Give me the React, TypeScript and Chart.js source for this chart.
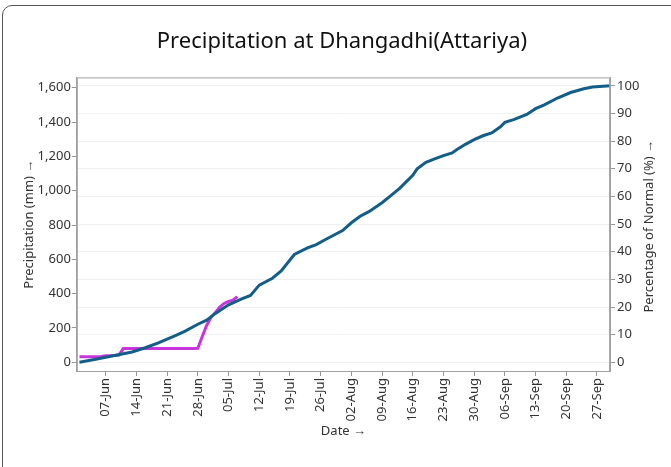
import React, { useEffect, useRef } from 'react';
import { Chart, registerables } from 'chart.js';

Chart.register(...registerables);

// Day index: 0 = 01-Jun
const normalDays = [0, 4, 8, 12, 15, 18, 22, 24, 27, 29, 31, 34, 37, 39, 41, 44, 46, 49, 52, 54, 56, 60, 62, 64, 66, 69, 71, 73, 76, 77, 79, 81, 83, 85, 86, 88, 90, 92, 94, 96, 97, 99, 102, 104, 106, 109, 112, 115, 117, 121];
const normalMm = [0, 19, 40, 60, 85, 113, 157, 180, 222, 246, 285, 335, 370, 390, 450, 490, 532, 628, 667, 686, 714, 768, 813, 851, 878, 930, 971, 1014, 1090, 1127, 1165, 1185, 1204, 1220, 1238, 1270, 1297, 1320, 1336, 1372, 1398, 1414, 1444, 1478, 1500, 1540, 1572, 1594, 1604, 1611];

const actualDays = [0, 1, 2, 3, 4, 5, 6, 7, 8, 9, 10, 11, 12, 13, 14, 15, 16, 17, 18, 19, 20, 21, 22, 23, 24, 25, 26, 27, 28, 29, 30, 31, 32, 33, 34, 35, 36];
const actualMm = [33, 33, 33, 33, 33, 34, 38, 39, 40, 42, 80, 81, 81, 81, 81, 81, 81, 81, 81, 81, 81, 81, 81, 81, 81, 81, 81, 82, 150, 215, 262, 290, 322, 343, 355, 362, 383];

const xTickDays = [6, 13, 20, 27, 34, 41, 48, 55, 62, 69, 76, 83, 90, 97, 104, 111, 118];
const xTickLabels = ['07-Jun', '14-Jun', '21-Jun', '28-Jun', '05-Jul', '12-Jul', '19-Jul', '26-Jul', '02-Aug', '09-Aug', '16-Aug', '23-Aug', '30-Aug', '06-Sep', '13-Sep', '20-Sep', '27-Sep'];
const mmTicks = [0, 200, 400, 600, 800, 1000, 1200, 1400, 1600];
const pctTicks = [0, 10, 20, 30, 40, 50, 60, 70, 80, 90, 100];
const normalTotal = 1611;

const mmMin = -50.6;
const mmMax = 1660;

const FONT = "'Noto Sans', 'Open Sans', sans-serif";

const framePlugin = {
  id: 'frameAndRightTitle',
  afterDraw(chart: any) {
    const { ctx, chartArea } = chart;
    ctx.save();
    ctx.strokeStyle = '#a0a0a0';
    ctx.lineWidth = 1;
    ctx.strokeRect(chartArea.left + 0.5, chartArea.top + 0.5, chartArea.right - chartArea.left - 1, chartArea.bottom - chartArea.top);
    const x = 649;
    const y = (chartArea.top + chartArea.bottom) / 2 + 2;
    ctx.translate(x, y);
    ctx.rotate(-Math.PI / 2);
    ctx.font = `13px ${FONT}`;
    ctx.fillStyle = '#333';
    ctx.textAlign = 'center';
    ctx.textBaseline = 'middle';
    ctx.fillText('Percentage of Normal (%) →', 0, 0);
    ctx.restore();
  },
};

export default function App() {
  const ref = useRef<HTMLCanvasElement | null>(null);
  useEffect(() => {
    if (!ref.current) return;
    const tickFont = { family: FONT, size: 13 };
    const chart = new Chart(ref.current, {
      type: 'line',
      data: {
        datasets: [
          {
            label: 'Normal',
            data: normalDays.map((d, i) => ({ x: d, y: normalMm[i] })),
            borderColor: '#125e88',
            borderWidth: 3,
            pointRadius: 0,
            tension: 0,
            yAxisID: 'y',
            order: 1,
          },
          {
            label: 'Actual',
            data: actualDays.map((d, i) => ({ x: d, y: actualMm[i] })),
            borderColor: '#c935dc',
            borderWidth: 3,
            pointRadius: 0,
            tension: 0,
            yAxisID: 'y',
            order: 2,
          },
        ],
      },
      options: {
        animation: false,
        responsive: false,
        layout: { padding: { left: 21, right: 8, top: 0, bottom: 28 } },
        plugins: {
          legend: { display: false },
          tooltip: { enabled: false },
          title: {
            display: true,
            text: 'Precipitation at Dhangadhi(Attariya)',
            color: '#111',
            font: { family: FONT, size: 22, weight: 'normal' },
            padding: { top: 29, bottom: 22 },
          },
        },
        scales: {
          x: {
            type: 'linear',
            min: -0.6,
            max: 121,
            afterBuildTicks: (s: any) => {
              s.ticks = xTickDays.map((v) => ({ value: v }));
            },
            ticks: {
              autoSkip: false,
              maxRotation: 90,
              minRotation: 90,
              color: '#333',
              font: tickFont,
              padding: 2,
              callback: (v: any) => {
                const i = xTickDays.indexOf(Number(v));
                return i >= 0 ? xTickLabels[i] : '';
              },
            },
            grid: { drawOnChartArea: false, color: '#999', tickLength: 5 },
            border: { color: '#a0a0a0' },
            title: { display: true, text: 'Date →', color: '#333', font: { family: FONT, size: 13 }, padding: { top: 0, bottom: 0 } },
          },
          y: {
            type: 'linear',
            position: 'left',
            min: mmMin,
            max: mmMax,
            afterBuildTicks: (s: any) => {
              s.ticks = mmTicks.map((v) => ({ value: v }));
            },
            ticks: {
              color: '#333',
              font: tickFont,
              padding: 1,
              callback: (v: any) => Number(v).toLocaleString('en-US'),
            },
            grid: { drawOnChartArea: false, color: '#999', tickLength: 5 },
            border: { color: '#a0a0a0' },
            title: { display: true, text: 'Precipitation (mm) →', color: '#333', font: { family: FONT, size: 13 }, padding: { top: 0, bottom: 0 } },
          },
          y1: {
            type: 'linear',
            position: 'right',
            min: (mmMin / normalTotal) * 100,
            max: (mmMax / normalTotal) * 100,
            afterBuildTicks: (s: any) => {
              s.ticks = pctTicks.map((v) => ({ value: v }));
            },
            ticks: { color: '#333', font: tickFont, padding: 2 },
            grid: { drawOnChartArea: true, color: '#f0f0f0', tickColor: '#999', tickLength: 5 },
            border: { color: '#a0a0a0' },
            title: { display: true, text: 'Percentage of Normal (%) →', color: 'rgba(0,0,0,0)', font: { family: FONT, size: 13 }, padding: { top: 6, bottom: 0 } },
          },
        },
      },
      plugins: [framePlugin],
    } as any);
    return () => chart.destroy();
  }, []);

  return (
    <div style={{ position: 'absolute', left: 0, top: 0, width: 671, height: 467, overflow: 'hidden', background: '#fff' }}>
      <div style={{ position: 'absolute', left: 2, top: 5, width: 720, height: 520, border: '1.5px solid #555', borderRadius: 10, boxSizing: 'border-box' }} />
      <canvas ref={ref} width={671} height={467} style={{ position: 'absolute', left: 0, top: 0, width: 671, height: 467 }} />
    </div>
  );
}
